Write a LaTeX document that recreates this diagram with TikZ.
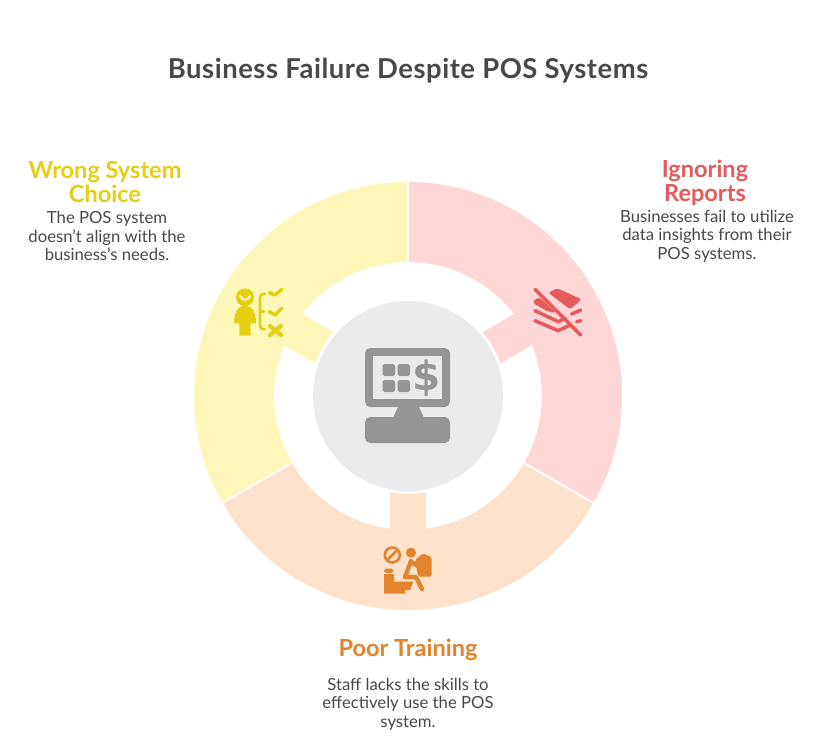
\documentclass[tikz,border=0pt]{standalone}
\usepackage{fontspec}
\setmainfont{Lato}
\newfontfamily\signfont{DejaVu Sans}
\definecolor{ringyellow}{HTML}{FEF7B9}
\definecolor{ringred}{HTML}{FFD7D7}
\definecolor{ringorange}{HTML}{FDE1CA}
\definecolor{hubgray}{HTML}{EBEBEB}
\definecolor{icongray}{HTML}{959595}
\definecolor{iconyellow}{HTML}{E5CF12}
\definecolor{iconred}{HTML}{E55B5B}
\definecolor{iconorange}{HTML}{E3832B}
\definecolor{inktext}{HTML}{484848}
\tikzset{
	headtext/.style={font=\fontsize{13.4}{13.4}\selectfont\bfseries,align=center},
	bodytext/.style={font=\fontsize{9.5}{10.5}\selectfont,align=center,text=inktext},
	iconline/.style={line width=2pt,line cap=round,line join=round},
}

\begin{document}
\begin{tikzpicture}[x=0.02cm,y=-0.02cm]
	\useasboundingbox (0,0) rectangle (828,750);
	\fill[white] (0,0) rectangle (828,750);
	% ring
	\begin{scope}[shift={(408,396)}]
		\foreach \a/\b/\t/\c in {270/150/150/ringyellow,390/270/30/ringred,150/30/270/ringorange}{
			\filldraw[fill=\c,draw=white,line width=1pt] (\a:215) arc (\a:\b:215) -- (\b:133) arc (\b:\a:133) -- cycle;
			\fill[\c,rotate=\t] (0,-18) rectangle (135,18);
		}
		\fill[white] (0,0) circle (98);
		\fill[hubgray] (0,0) circle (95);
	\end{scope}
	% monitor
	\fill[icongray,rounded corners=3pt] (365,348) rectangle (450,407);
	\fill[hubgray] (373,356) rectangle (442,399);
	\fill[icongray,rounded corners=1pt] (382.7,364) rectangle (395,376);
	\fill[icongray,rounded corners=1pt] (397.7,364) rectangle (410,376);
	\fill[icongray,rounded corners=1pt] (382.7,380) rectangle (395,392);
	\fill[icongray,rounded corners=1pt] (397.7,380) rectangle (410,392);
	\node[text=icongray,font=\signfont\fontsize{23}{23}\selectfont\bfseries] (dollar) at (427,378) {\$};
	\fill[icongray] (398,407) -- (419,407) -- (424,418) -- (393,418) -- cycle;
	\fill[icongray,rounded corners=3pt] (365,417) rectangle (450,443);
	% person and checklist
	\fill[iconyellow] (245,297.3) circle (9);
	\draw[ringyellow,line width=1.2pt,line cap=round] (240,296) .. controls (242,301) and (248,301) .. (250,296);
	\fill[iconyellow] (234,323.3) .. controls (234,312) and (238,305.7) .. (245,305.7) .. controls (252,305.7) and (256,312) .. (256,323.3) -- (250.7,323.3) -- (250.7,335.7) -- (239.3,335.7) -- (239.3,323.3) -- cycle;
	\draw[iconyellow,iconline,line width=1.6pt,rounded corners=2pt] (265,294) -- (260,294) -- (260,329.3) -- (265,329.3);
	\draw[iconyellow,iconline,line width=1.6pt] (260,311.7) -- (264,311.7);
	\draw[iconyellow,iconline] (269.3,292.7) -- (275,295) -- (281.7,289.3);
	\draw[iconyellow,iconline] (269.3,311.7) -- (275,315) -- (281.7,308.3);
	\draw[iconyellow,iconline,line width=2.4pt] (270,326) -- (281,335) (281,326) -- (270,335);
	% crossed out reports
	\fill[iconred,rounded corners=1pt] (548.3,292.7) -- (557.3,288.3) -- (581.7,299.3) -- (570,309.3) -- cycle;
	\fill[iconred,rounded corners=1pt] (533.3,300.7) -- (539.3,297.3) -- (556,312.7) -- (548.3,311.7) -- (533.3,303.3) -- cycle;
	\draw[iconred,iconline] (535,289.3) -- (580.7,335);
	\draw[iconred,iconline] (535,310.7) -- (558.3,321.7) -- (565,318.3);
	\draw[iconred,iconline] (535,320.7) -- (558.3,330.7) -- (570,325);
	\draw[iconred,iconline] (571.7,314) -- (580.7,310);
	\draw[iconred,iconline] (576.7,321.7) -- (580.7,320.7);
	% trainee at desk
	\draw[iconorange,iconline,line width=1.5pt] (392.3,555) circle (7.5);
	\draw[iconorange,iconline,line width=1.5pt] (387.3,560) -- (397.3,550);
	\fill[iconorange] (411,552.7) circle (5);
	\fill[iconorange,rounded corners=1pt] (415,560) -- (423.3,553.3) -- (431.7,557.3) -- (431.7,576.7) -- (418.3,576.7) -- cycle;
	\draw[iconorange,iconline,line width=2.5pt] (411,561) -- (405,577) -- (416,577) -- (422,589);
	\draw[iconorange,iconline,line width=2.5pt] (411,562) -- (420,567);
	\fill[iconorange,rounded corners=1pt] (384,573) -- (384,568.5) -- (393.3,568.5) -- (393.3,573) -- cycle;
	\fill[iconorange] (384,574) -- (394,574) -- (394,581.7) -- (413.3,581.7) -- (410,590) -- (405,590) -- (405,593.7) -- (384,593.7) -- cycle;
	% texts
	\node[text=inktext,font=\fontsize{15.6}{16}\selectfont\bfseries\addfontfeatures{LetterSpace=2}] (title) at (408,71) {Business Failure Despite POS Systems};
	\node[headtext,text=iconyellow] (wrong) at (105,182) {Wrong System\\Choice};
	\node[bodytext] (wrongtext) at (107,236) {The POS system\\doesn't align with the\\business's needs.};
	\node[headtext,text=iconred] (ignoring) at (705,183) {Ignoring\\Reports};
	\node[bodytext] (ignoringtext) at (707,236) {Businesses fail to utilize\\data insights from their\\POS systems.};
	\node[headtext,text=iconorange] (poor) at (408,650) {Poor Training};
	\node[bodytext] (poortext) at (408,704) {Staff lacks the skills to\\effectively use the POS\\system.};
\end{tikzpicture}
\end{document}
